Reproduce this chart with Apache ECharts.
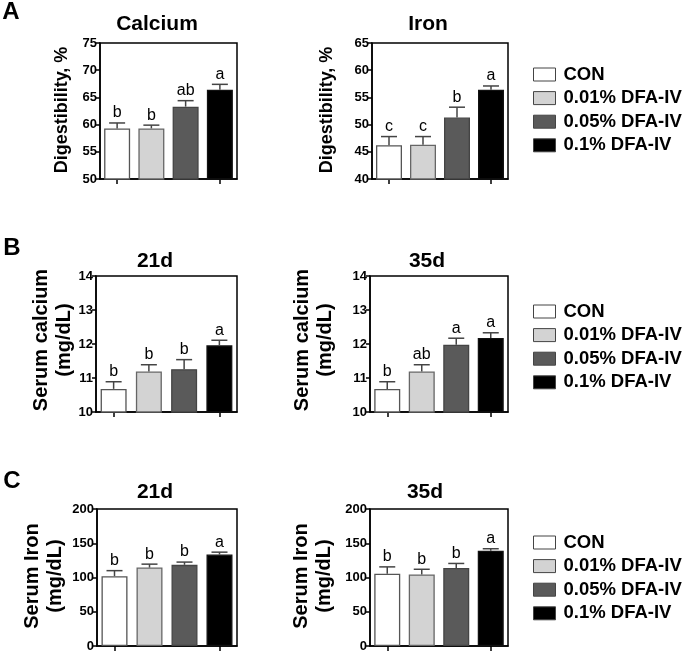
<!DOCTYPE html>
<html>
<head>
<meta charset="utf-8">
<script src="https://cdn.jsdelivr.net/npm/echarts@6/dist/echarts.min.js"></script>
<style>
html,body{margin:0;padding:0;background:#fff;}
#main{width:685px;height:653px;}
</style>
</head>
<body>
<div id="main"></div>
<script>
// ---- data ----
var groups = ['CON', '0.01% DFA-IV', '0.05% DFA-IV', '0.1% DFA-IV'];

var caDigMean = [59.3, 59.3, 63.3, 66.4];
var caDigErr  = [1.0, 0.6, 1.1, 1.0];
var caDigLetters = ['b', 'b', 'ab', 'a'];

var feDigMean = [46.2, 46.3, 51.3, 56.4];
var feDigErr  = [1.6, 1.5, 1.9, 0.7];
var feDigLetters = ['c', 'c', 'b', 'a'];

var serCa21Mean = [10.68, 11.19, 11.26, 11.96];
var serCa21Err  = [0.21, 0.20, 0.28, 0.15];
var serCa21Letters = ['b', 'b', 'b', 'a'];

var serCa35Mean = [10.68, 11.19, 11.98, 12.18];
var serCa35Err  = [0.21, 0.20, 0.19, 0.15];
var serCa35Letters = ['b', 'ab', 'a', 'a'];

var serFe21Mean = [102, 114.5, 118.5, 133.5];
var serFe21Err  = [8, 5, 4, 3.5];
var serFe21Letters = ['b', 'b', 'b', 'a'];

var serFe35Mean = [105.5, 104.5, 114, 139];
var serFe35Err  = [10, 7.5, 6.5, 3];
var serFe35Letters = ['b', 'b', 'b', 'a'];

var yTicksA1 = [50, 75, 5];
var yTicksA2 = [40, 65, 5];
var yTicksB = [10, 14, 1];
var yTicksC = [0, 200, 50];

// ---- layout / style ----
var FONT = "'Liberation Sans', Arial, Helvetica, sans-serif";
var barColors = ['#ffffff', '#d3d3d3', '#5a5a5a', '#000000'];
var barBorders = ['#555555', '#666666', '#444444', '#111111'];

var panels = [
  {mean: caDigMean, err: caDigErr, letters: caDigLetters, ticks: yTicksA1, grid: {left: 100, top: 43, width: 137, height: 136}},
  {mean: feDigMean, err: feDigErr, letters: feDigLetters, ticks: yTicksA2, grid: {left: 372, top: 43, width: 136, height: 136}},
  {mean: serCa21Mean, err: serCa21Err, letters: serCa21Letters, ticks: yTicksB, grid: {left: 96, top: 276, width: 141, height: 136}},
  {mean: serCa35Mean, err: serCa35Err, letters: serCa35Letters, ticks: yTicksB, grid: {left: 370, top: 276, width: 138, height: 136}},
  {mean: serFe21Mean, err: serFe21Err, letters: serFe21Letters, ticks: yTicksC, grid: {left: 97, top: 509, width: 140, height: 137}},
  {mean: serFe35Mean, err: serFe35Err, letters: serFe35Letters, ticks: yTicksC, grid: {left: 370, top: 509, width: 138, height: 137}}
];

var grids = [], xAxes = [], yAxes = [], series = [];

panels.forEach(function (p, pi) {
  grids.push(Object.assign({show: true, borderColor: '#000', borderWidth: 1.5, backgroundColor: 'transparent'}, p.grid));
  xAxes.push({
    type: 'category', gridIndex: pi, data: groups,
    axisLine: {show: true, lineStyle: {color: '#000', width: 1.5}},
    axisTick: {show: true, alignWithLabel: true, length: 5, lineStyle: {color: '#000', width: 1.5}},
    axisLabel: {show: false},
    splitLine: {show: false}
  });
  yAxes.push({
    type: 'value', gridIndex: pi, min: p.ticks[0], max: p.ticks[1], interval: p.ticks[2],
    axisLine: {show: true, lineStyle: {color: '#000', width: 1.5}},
    axisTick: {show: true, length: 4, lineStyle: {color: '#000', width: 1.5}},
    axisLabel: {show: true, color: '#000', fontFamily: FONT, fontWeight: 'bold', fontSize: 13, margin: 3},
    splitLine: {show: false}
  });
  groups.forEach(function (g, gi) {
    var d = groups.map(function (_, k) { return k === gi ? p.mean[k] : '-'; });
    series.push({
      type: 'bar', name: g, xAxisIndex: pi, yAxisIndex: pi,
      data: d, barWidth: 26, barGap: '-100%',
      itemStyle: {color: barColors[gi], borderColor: barBorders[gi], borderWidth: 1.3},
      emphasis: {disabled: true},
      animation: false
    });
  });
  var ed = p.mean.map(function (m, k) { return [k, m, m + p.err[k]]; });
  series.push({
    type: 'custom', xAxisIndex: pi, yAxisIndex: pi, z: 10,
    data: ed, animation: false, silent: true,
    renderItem: function (params, api) {
      var x = api.value(0);
      var top = api.coord([x, api.value(2)]);
      var base = api.coord([x, api.value(1)]);
      var k = params.dataIndex;
      var col = '#444';
      return {
        type: 'group',
        children: [
          {type: 'line', shape: {x1: base[0], y1: base[1], x2: top[0], y2: top[1]}, style: {stroke: col, lineWidth: 1.5}},
          {type: 'line', shape: {x1: top[0] - 8, y1: top[1], x2: top[0] + 8, y2: top[1]}, style: {stroke: col, lineWidth: 1.5}},
          {type: 'text', x: top[0], y: top[1] - 2, style: {text: p.letters[k], fill: '#000', font: '16px ' + FONT, textAlign: 'center', textVerticalAlign: 'bottom'}}
        ]
      };
    }
  });
});

function legendAt(top) {
  return {
    data: groups, left: 528, top: top, orient: 'vertical',
    itemWidth: 22, itemHeight: 13, itemGap: 4.6, icon: 'rect',
    selectedMode: false,
    itemStyle: {borderWidth: 1, borderColor: '#444'},
    textStyle: {fontFamily: FONT, fontWeight: 'bold', fontSize: 18.5, color: '#000', lineHeight: 18, padding: [0, 0, 0, 3]}
  };
}

function txt(s, x, y, size, rot, lh) {
  return {type: 'text', x: x, y: y, rotation: rot || 0,
    style: {text: s, fill: '#000', font: 'bold ' + size + 'px ' + FONT, textAlign: 'center', textVerticalAlign: 'middle', lineHeight: lh || size}};
}
var R = Math.PI / 2;
var graphics = [
  txt('A', 11, 12, 24), txt('B', 12, 248, 24), txt('C', 12, 481, 24),
  txt('Calcium', 157, 24, 21), txt('Iron', 428, 24, 21),
  txt('21d', 155, 261, 21), txt('35d', 427, 261, 21),
  txt('21d', 155, 492, 21), txt('35d', 425, 492, 21),
  txt('Digestibility, %', 62, 110, 18, R), txt('Digestibility, %', 327, 110, 18, R),
  txt('Serum calcium\n(mg/dL)', 53, 340, 20, R, 23), txt('Serum calcium\n(mg/dL)', 314, 340, 20, R, 23),
  txt('Serum Iron\n(mg/dL)', 44, 576, 20, R, 23), txt('Serum Iron\n(mg/dL)', 313, 576, 20, R, 23)
];

var chart = echarts.init(document.getElementById('main'), null, {renderer: 'canvas'});
chart.setOption({
  backgroundColor: '#fff',
  animation: false,
  grid: grids, xAxis: xAxes, yAxis: yAxes, series: series,
  legend: [legendAt(60), legendAt(297), legendAt(528)],
  graphic: graphics
});
</script>
</body>
</html>
